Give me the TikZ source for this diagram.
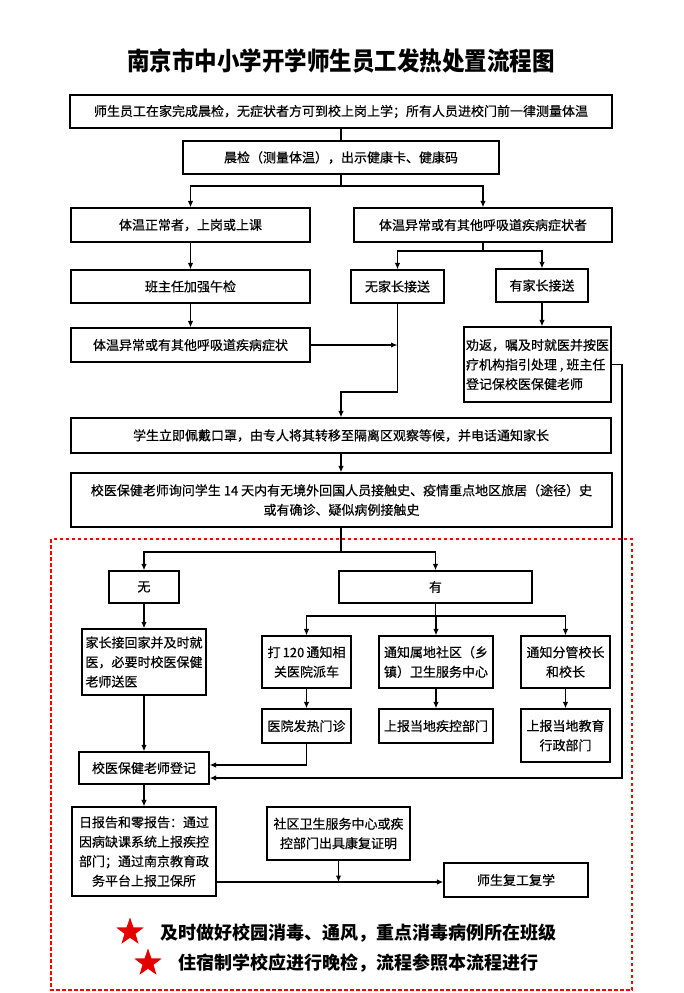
\documentclass[tikz,border=0pt]{standalone}
\usepackage{fontspec}
\setmainfont{Noto Sans CJK SC}
\newfontfamily\boxfont{Noto Sans CJK SC}[FakeBold=0.45]
\usetikzlibrary{shapes.geometric,arrows.meta}
\begin{document}
\begin{tikzpicture}[x=1pt,y=-1pt,
  box/.style={draw, line width=1.3pt, fill=white, inner sep=0pt, align=center,
    font=\boxfont\fontsize{13}{19.5}\selectfont},
  lbox/.style={box, align=left},
  conn/.style={line width=1.2pt},
  arr/.style={conn, -{Latex[length=6.5pt,width=5.5pt]}},
  redstar/.style={star, star points=5, star point ratio=2.5, fill=red!90!black, draw=none, minimum size=29pt, inner sep=0pt},
  note/.style={font=\fontsize{18}{20}\selectfont\bfseries}]
\useasboundingbox[fill=white] (0,0) rectangle (683,993);

% title
\node[font=\fontsize{22.5}{26}\selectfont\bfseries] (title) at (341,61) {\scalebox{1}[1.12]{南京市中小学开学师生员工发热处置流程图}};

% red dashed frame
\draw[red, line width=1.6pt, dash pattern=on 3.5pt off 2.5pt] (51,539) rectangle (632,990);

% boxes
\node[box, minimum width=542pt, minimum height=33pt] (b1) at (341,111.5) {师生员工在家完成晨检，无症状者方可到校上岗上学；所有人员进校门前一律测量体温};
\node[box, minimum width=316pt, minimum height=33pt] (b2) at (341,157.5) {晨检（测量体温），出示健康卡、健康码};
\node[box, minimum width=239pt, minimum height=34pt] (b3L) at (190.5,225) {体温正常者，上岗或上课};
\node[box, minimum width=258pt, minimum height=34pt] (b3R) at (483,225) {体温异常或有其他呼吸道疾病症状者};
\node[box, minimum width=239pt, minimum height=33pt] (b4L) at (190.5,286.5) {班主任加强午检};
\node[box, minimum width=93pt, minimum height=33pt] (np) at (397.5,286.5) {无家长接送};
\node[box, minimum width=92pt, minimum height=33pt] (p) at (542,285.5) {有家长接送};
\node[box, minimum width=239pt, minimum height=34pt] (b5L) at (190.5,345) {体温异常或有其他呼吸道疾病症状};
\node[lbox, minimum width=147pt, minimum height=75pt] (pers) at (537.5,364.5) {劝返，嘱及时就医并按医\\疗机构指引处理 , 班主任\\登记保校医保健老师};
\node[box, minimum width=540pt, minimum height=35pt] (b6) at (341,435.5) {学生立即佩戴口罩，由专人将其转移至隔离区观察等候，并电话通知家长};
\node[box, minimum width=541pt, minimum height=54pt] (b7) at (341.5,500) {校医保健老师询问学生 14 天内有无境外回国人员接触史、疫情重点地区旅居（途径）史\\或有确诊、疑似病例接触史};

\node[box, minimum width=70pt, minimum height=32pt] (wu) at (144,587) {无};
\node[box, minimum width=193pt, minimum height=32pt] (you) at (435.5,587) {有};
\node[lbox, minimum width=124pt, minimum height=66pt] (jz) at (144,662) {家长接回家并及时就\\医，必要时校医保健\\老师送医};
\node[box, minimum width=89pt, minimum height=52pt] (d120) at (306.5,662) {打\,120\,通知相\\关医院派车};
\node[box, minimum width=114pt, minimum height=52pt] (sd) at (436,662) {通知属地社区（乡\\镇）卫生服务中心};
\node[box, minimum width=89pt, minimum height=52pt] (fg) at (565.5,662) {通知分管校长\\和校长};
\node[box, minimum width=89pt, minimum height=34pt] (yy) at (306.5,726) {医院发热门诊};
\node[box, minimum width=114pt, minimum height=34pt] (jk) at (436,726) {上报当地疾控部门};
\node[box, minimum width=89pt, minimum height=53pt] (jy) at (565.5,735.5) {上报当地教育\\行政部门};
\node[box, minimum width=130pt, minimum height=32pt] (dj) at (144,768) {校医保健老师登记};
\node[box, minimum width=144pt, minimum height=89pt] (rb) at (144,851.5) {日报告和零报告：通过\\因病缺课系统上报疾控\\部门；通过南京教育政\\务平台上报卫保所};
\node[box, minimum width=143pt, minimum height=53pt] (sq) at (338.5,833.5) {社区卫生服务中心或疾\\控部门出具康复证明};
\node[box, minimum width=144pt, minimum height=34pt] (fw) at (516,880) {师生复工复学};

% notes
\node[redstar] (st1) at (130,932) {};
\node[note] (n1) at (358,933) {及时做好校园消毒、通风，重点消毒病例所在班级};
\node[redstar] (st2) at (148,963) {};
\node[note] (n2) at (358,963) {住宿制学校应进行晚检，流程参照本流程进行};

% connectors
\draw[conn] (b1.south) -- (b2.north);
\coordinate (s1) at (341,186);
\draw[conn] (b2.south) -- (s1);
\draw[arr] (s1) -| (b3L.north);
\draw[arr] (s1) -| (b3R.north);
\draw[arr] (b3L.south) -- (b4L.north);
\draw[arr] (b4L.south) -- (b5L.north);
\coordinate (s2) at (483,251);
\draw[conn] (b3R.south) -- (s2);
\draw[arr] (s2) -| (np.north);
\draw[arr] (s2) -| (p.north);
\draw[arr] (b5L.east) -- (b5L.east -| np.south);
\coordinate (c2) at (397.5,392);
\draw[arr] (np.south) -- (c2) -| (b6.north);
\draw[arr] (p.south) -- (p.south |- pers.north);
\coordinate (r1) at (622,364.5);
\draw[arr] (pers.east) -- (r1) |- ([yshift=-10pt]dj.east);
\draw[arr] (b6.south) -- (b7.north -| b6.south);
\coordinate (s3) at (341,552);
\draw[conn] (b7.south -| s3) -- (s3);
\draw[arr] (s3) -| (wu.north);
\draw[arr] (s3) -| (you.north);
\draw[arr] (wu.south) -- (jz.north);
\draw[arr] (jz.south) -- (dj.north);
\coordinate (s4) at (435.5,616);
\draw[conn] (you.south) -- (s4);
\draw[arr] (s4) -| (d120.north);
\draw[arr] (s4) -| (sd.north);
\draw[arr] (s4) -| (fg.north);
\draw[arr] (d120.south) -- (yy.north);
\draw[arr] (sd.south) -- (jk.north);
\draw[arr] (fg.south) -- (jy.north);
\draw[arr] (yy.south) |- ([yshift=3pt]dj.east);
\draw[arr] (dj.south) -- (rb.north);
\coordinate (c5) at (216,882);
\draw[arr] (c5) -- (c5 -| fw.west);
\draw[arr] (sq.south) -- (sq.south |- c5);
\end{tikzpicture}
\end{document}
